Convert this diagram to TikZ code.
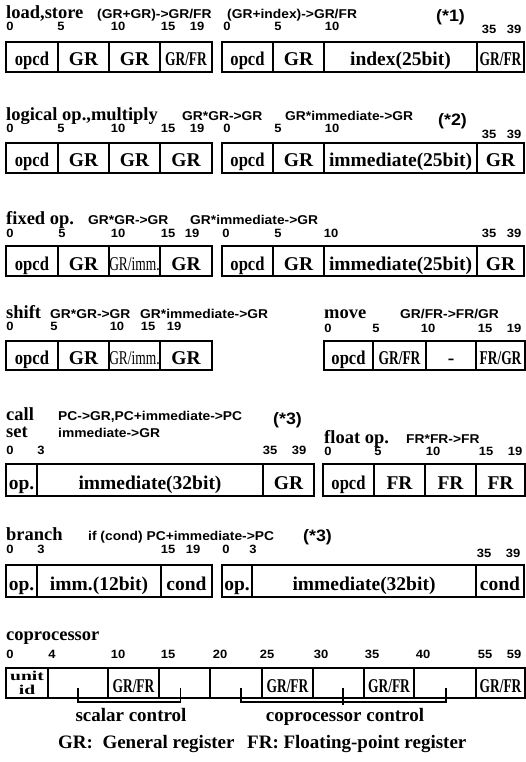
\documentclass[tikz,border=0pt]{standalone}
\usepackage{fontspec}
\setmainfont{Liberation Serif}
\newfontfamily\annfont[FakeStretch=1.08]{Liberation Sans}
\newfontfamily\condfont[FakeStretch=0.69]{Liberation Serif}
\newfontfamily\narrowfont[FakeStretch=0.85]{Liberation Serif}
\newfontfamily\widefont[FakeStretch=1.45]{Liberation Serif}
\tikzset{
  cell/.style={draw, line width=1.3pt, inner sep=0pt, outer sep=0pt, anchor=north west,
    font=\fontsize{19.5}{20}\selectfont\bfseries, text height=18pt, text depth=0pt},
  frame/.style={draw, line width=2.2pt, line join=miter},
  title/.style={anchor=base west, inner sep=0pt, font=\fontsize{18.5}{20}\selectfont\bfseries},
  ann/.style={anchor=base west, inner sep=0pt, font=\annfont\bfseries\fontsize{12.8}{14}\selectfont},
  bitno/.style={anchor=base, inner sep=0pt, font=\annfont\bfseries\fontsize{12}{13}\selectfont},
  starnote/.style={anchor=base west, inner sep=0pt, font=\annfont\bfseries\fontsize{16.5}{18}\selectfont},
  bracket/.style={line width=1.3pt},
  brlabel/.style={anchor=base, inner sep=0pt, font=\fontsize{19}{20}\selectfont\bfseries},
  cond/.style={font=\condfont\bfseries\fontsize{19.5}{20}\selectfont},
  condreg/.style={font=\condfont\mdseries\fontsize{19.5}{20}\selectfont},
}
\newcommand\cellfield[7][]{\node[cell,#1,minimum width={(#4-#3)*1pt},minimum height={(#6-#5)*1pt}] (#2) at (#3,#5) {#7};}
\begin{document}
\begin{tikzpicture}[x=1pt,y=-1pt]
\useasboundingbox (0,0) rectangle (526,762);

% ---------- Row 1: load,store
\node[title] (t1) at (6,19) {load,store};
\node[ann] (t1a) at (97,19) {(GR+GR)->GR/FR};
\node[ann] (t1b) at (227,19) {(GR+index)->GR/FR};
\node[starnote] (t1s) at (436,22) {(*1)};
\foreach \x/\n [count=\i] in {10/0,61/5,118/10,168/15,197/19,227/0,278/5,332/10}
  \node[bitno] (n1-\i) at (\x,31) {\n};
\node[bitno] (n1-9) at (489,34) {35};
\node[bitno] (n1-10) at (514,34) {39};
\cellfield{a1}{6}{58}{42}{72}{\narrowfont opcd}
\cellfield{a2}{58}{109}{42}{72}{GR}
\cellfield{a3}{109}{160}{42}{72}{GR}
\cellfield[cond]{a4}{160}{212}{42}{72}{GR/FR}
\draw[frame] (a1.north west) rectangle (a4.south east);
\cellfield{b1}{222}{273}{42}{72}{\narrowfont opcd}
\cellfield{b2}{273}{324}{42}{72}{GR}
\cellfield{b3}{324}{477}{42}{72}{index(25bit)}
\cellfield[cond]{b4}{477}{524}{42}{72}{GR/FR}
\draw[frame] (b1.north west) rectangle (b4.south east);

% ---------- Row 2: logical op., multiply
\node[title] (t2) at (6,121) {logical op.,multiply};
\node[ann] (t2a) at (182,121) {GR*GR->GR};
\node[ann] (t2b) at (285,121) {GR*immediate->GR};
\node[starnote] (t2s) at (438,126) {(*2)};
\foreach \x/\n [count=\i] in {10/0,61/5,118/10,168/15,197/19,227/0,278/5,332/10}
  \node[bitno] (n2-\i) at (\x,133) {\n};
\node[bitno] (n2-9) at (489,139) {35};
\node[bitno] (n2-10) at (514,139) {39};
\cellfield{c1}{6}{58}{143}{173}{\narrowfont opcd}
\cellfield{c2}{58}{109}{143}{173}{GR}
\cellfield{c3}{109}{160}{143}{173}{GR}
\cellfield{c4}{160}{212}{143}{173}{GR}
\draw[frame] (c1.north west) rectangle (c4.south east);
\cellfield{d1}{222}{273}{143}{173}{\narrowfont opcd}
\cellfield{d2}{273}{324}{143}{173}{GR}
\cellfield{d3}{324}{477}{143}{173}{immediate(25bit)}
\cellfield{d4}{477}{524}{143}{173}{GR}
\draw[frame] (d1.north west) rectangle (d4.south east);

% ---------- Row 3: fixed op.
\node[title] (t3) at (6,224) {fixed op.};
\node[ann] (t3a) at (88,224) {GR*GR->GR};
\node[ann] (t3b) at (190,224) {GR*immediate->GR};
\foreach \x/\n [count=\i] in {10/0,62/5,118/10,168/15,192/19,226/0,278/5,331/10,489/35,514/39}
  \node[bitno] (n3-\i) at (\x,237) {\n};
\cellfield{e1}{6}{58}{246}{276}{\narrowfont opcd}
\cellfield{e2}{58}{109}{246}{276}{GR}
\cellfield[condreg]{e3}{109}{160}{246}{276}{GR/imm.}
\cellfield{e4}{160}{212}{246}{276}{GR}
\draw[frame] (e1.north west) rectangle (e4.south east);
\cellfield{f1}{222}{273}{246}{276}{\narrowfont opcd}
\cellfield{f2}{273}{324}{246}{276}{GR}
\cellfield{f3}{324}{477}{246}{276}{immediate(25bit)}
\cellfield{f4}{477}{524}{246}{276}{GR}
\draw[frame] (f1.north west) rectangle (f4.south east);

% ---------- Row 4: shift / move
\node[title] (t4) at (6,318) {shift};
\node[ann] (t4a) at (50,318) {GR*GR->GR};
\node[ann] (t4b) at (140,318) {GR*immediate->GR};
\foreach \x/\n [count=\i] in {10/0,54/5,117/10,148/15,174/19}
  \node[bitno] (n4-\i) at (\x,330) {\n};
\cellfield{g1}{6}{58}{341}{370}{\narrowfont opcd}
\cellfield{g2}{58}{109}{341}{370}{GR}
\cellfield[condreg]{g3}{109}{160}{341}{370}{GR/imm.}
\cellfield{g4}{160}{212}{341}{370}{GR}
\draw[frame] (g1.north west) rectangle (g4.south east);
\node[title] (t4m) at (324,318) {move};
\node[ann] (t4c) at (400,318) {GR/FR->FR/GR};
\foreach \x/\n [count=\i] in {328/0,376/5,428/10,485/15,514/19}
  \node[bitno] (m4-\i) at (\x,332) {\n};
\cellfield{h1}{324}{373}{341}{370}{\narrowfont opcd}
\cellfield[cond]{h2}{373}{426}{341}{370}{GR/FR}
\cellfield{h3}{426}{476}{341}{370}{-}
\cellfield[cond]{h4}{476}{525}{341}{370}{FR/GR}
\draw[frame] (h1.north west) rectangle (h4.south east);

% ---------- Row 5: call / set / float op.
\node[title] (t5) at (6,420) {call};
\node[title] (t5b) at (6,437) {set};
\node[ann] (t5a) at (58,420) {PC->GR,PC+immediate->PC};
\node[ann] (t5c) at (58,437) {immediate->GR};
\node[starnote] (t5s) at (273,424) {(*3)};
\foreach \x/\n [count=\i] in {10/0,41/3,270/35,299/39}
  \node[bitno] (n5-\i) at (\x,454) {\n};
\cellfield{i1}{6}{37}{464}{496}{op.}
\cellfield{i2}{37}{263}{464}{496}{immediate(32bit)}
\cellfield{i3}{263}{314}{464}{496}{GR}
\draw[frame] (i1.north west) rectangle (i3.south east);
\node[title] (t5f) at (324,443) {float op.};
\node[ann] (t5d) at (406,443) {FR*FR->FR};
\foreach \x/\n [count=\i] in {328/0,378/5,433/10,486/15,515/19}
  \node[bitno] (m5-\i) at (\x,455) {\n};
\cellfield{j1}{323}{374}{464}{496}{\narrowfont opcd}
\cellfield{j2}{374}{425}{464}{496}{FR}
\cellfield{j3}{425}{476}{464}{496}{FR}
\cellfield{j4}{476}{525}{464}{496}{FR}
\draw[frame] (j1.north west) rectangle (j4.south east);

% ---------- Row 6: branch
\node[title] (t6) at (6,540) {branch};
\node[ann] (t6a) at (88,540) {if (cond) PC+immediate->PC};
\node[starnote] (t6s) at (303,541) {(*3)};
\foreach \x/\n [count=\i] in {10/0,41/3,168/15,193/19,226/0,253/3}
  \node[bitno] (n6-\i) at (\x,553) {\n};
\node[bitno] (n6-7) at (484,557) {35};
\node[bitno] (n6-8) at (513,557) {39};
\cellfield{l1}{6}{37}{565}{597}{op.}
\cellfield{l2}{37}{161}{565}{597}{imm.(12bit)}
\cellfield{l3}{161}{212}{565}{597}{cond}
\draw[frame] (l1.north west) rectangle (l3.south east);
\cellfield{o1}{222}{252}{565}{597}{op.}
\cellfield{o2}{252}{476}{565}{597}{immediate(32bit)}
\cellfield{o3}{476}{524}{565}{597}{cond}
\draw[frame] (o1.north west) rectangle (o3.south east);

% ---------- Row 7: coprocessor
\node[title] (t7) at (6,640) {coprocessor};
\foreach \x/\n [count=\i] in {10/0,52/4,118/10,168/15,220/20,267/25,321/30,372/35,423/40,485/55,514/59}
  \node[bitno] (n7-\i) at (\x,658) {\n};
\cellfield[text height=, text depth=, align=center, font=\widefont\bfseries\fontsize{13.5}{13.5}\selectfont]{k1}{6}{48}{668}{698}{unit\\id}
\cellfield{k2}{48}{108}{668}{698}{}
\cellfield[cond]{k3}{108}{159}{668}{698}{GR/FR}
\cellfield{k4}{159}{210}{668}{698}{}
\cellfield{k5}{210}{262}{668}{698}{}
\cellfield[cond]{k6}{262}{313}{668}{698}{GR/FR}
\cellfield{k7}{313}{364}{668}{698}{}
\cellfield[cond]{k8}{364}{414}{668}{698}{GR/FR}
\cellfield{k9}{414}{476}{668}{698}{}
\cellfield[cond]{k10}{476}{525}{668}{698}{GR/FR}
\draw[frame] (k1.north west) rectangle (k10.south east);

\draw[bracket] ([yshift=-5pt]k2.center) -- ++(0,14) -| ([xshift=-4pt,yshift=-5pt]k4.center);
\draw[bracket] ([xshift=5pt,yshift=-5pt]k5.center) -- ++(0,14) -| ([xshift=1pt,yshift=-5pt]k9.center);
\draw[bracket] ([xshift=4.5pt,yshift=-5pt]k7.center) -- ++(0,17);
\node[brlabel] (sc) at (131,721) {scalar control};
\node[brlabel] (cc) at (345,721) {coprocessor control};

% ---------- Footer
\node[title, font=\fontsize{19}{20}\selectfont\bfseries] (f1) at (58,748) {GR:\ \ General register};
\node[title, font=\fontsize{19}{20}\selectfont\bfseries] (f2) at (247,748) {FR: Floating-point register};
\end{tikzpicture}
\end{document}
